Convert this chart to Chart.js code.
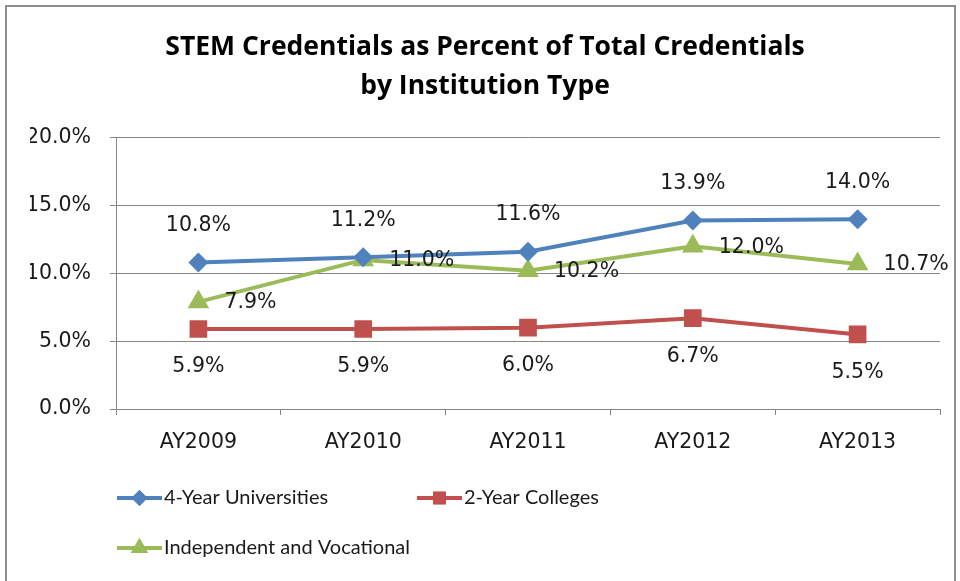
<!DOCTYPE html>
<html>
<head>
<meta charset="utf-8">
<script src="https://cdn.jsdelivr.net/npm/chart.js"></script>
<style>
  html, body { margin: 0; padding: 0; background: #fff; }
  #wrap { position: relative; width: 960px; height: 581px; overflow: hidden; }
  #frame { position: absolute; left: 5px; top: 5px; width: 951px; height: 620px; border: 2px solid #8e8e8e; box-sizing: border-box; }
  #c { position: absolute; left: 0; top: 0; }
</style>
</head>
<body>
<div id="wrap">
  <div id="frame"></div>
  <canvas id="c" width="960" height="581"></canvas>
</div>
<script>
const titleLines = ['STEM Credentials as Percent of Total Credentials', 'by Institution Type'];
const categories = ['AY2009', 'AY2010', 'AY2011', 'AY2012', 'AY2013'];
const seriesNames = ['4-Year Universities', '2-Year Colleges', 'Independent and Vocational'];
const universities = [10.8, 11.2, 11.6, 13.9, 14.0];
const colleges = [5.9, 5.9, 6.0, 6.7, 5.5];
const vocational = [7.9, 11.0, 10.2, 12.0, 10.7];
const yTicks = [0, 5, 10, 15, 20];

const FONT = 'Lato, "Open Sans", sans-serif';
const NUMFONT = '"DejaVu Sans", "Open Sans", sans-serif';
const GRID = '#868686';

const dataLabels = {
  id: 'dataLabels',
  afterDatasetsDraw(chart) {
    const ctx = chart.ctx;
    ctx.save();
    ctx.font = '20.5px ' + NUMFONT;
    ctx.fillStyle = '#1a1a1a';
    chart.data.datasets.forEach((ds, i) => {
      const meta = chart.getDatasetMeta(i);
      meta.data.forEach((pt, j) => {
        const txt = ds.data[j].toFixed(1) + '%';
        if (ds.labelPos === 'top') {
          ctx.textAlign = 'center'; ctx.textBaseline = 'middle';
          ctx.fillText(txt, pt.x, pt.y - 37);
        } else if (ds.labelPos === 'bottom') {
          ctx.textAlign = 'center'; ctx.textBaseline = 'middle';
          ctx.fillText(txt, pt.x, pt.y + 38);
        } else {
          ctx.textAlign = 'left'; ctx.textBaseline = 'middle';
          ctx.fillText(txt, pt.x + 26, pt.y + 1);
        }
      });
    });
    ctx.restore();
  }
};

const customLegend = {
  id: 'customLegend',
  afterDraw(chart) {
    const ctx = chart.ctx;
    const spots = [[117, 498], [417, 498], [117, 548]];
    chart.data.datasets.forEach((ds, i) => {
      const [x, y] = spots[i];
      ctx.save();
      ctx.strokeStyle = ds.borderColor;
      ctx.lineWidth = 4;
      ctx.beginPath();
      ctx.moveTo(x, y);
      ctx.lineTo(x + 45, y);
      ctx.stroke();
      ctx.fillStyle = ds.borderColor;
      Chart.helpers.drawPoint(ctx, {
        pointStyle: ds.pointStyle,
        radius: ds.legendRadius,
        rotation: 0,
        borderWidth: 0
      }, x + 22.5, y);
      ctx.fill();
      ctx.fillStyle = '#1a1a1a';
      ctx.font = '20px ' + FONT;
      ctx.textAlign = 'left';
      ctx.textBaseline = 'middle';
      ctx.fillText(ds.label, x + 47, y);
      ctx.restore();
    });
  }
};

new Chart(document.getElementById('c'), {
  type: 'line',
  data: {
    labels: categories,
    datasets: [
      {
        label: seriesNames[0], data: universities,
        borderColor: '#4F81BD', backgroundColor: '#4F81BD',
        borderWidth: 4, pointStyle: 'rectRot', pointRadius: 10, pointHoverRadius: 10,
        pointBorderWidth: 0, labelPos: 'top', legendRadius: 8, tension: 0
      },
      {
        label: seriesNames[1], data: colleges,
        borderColor: '#C0504D', backgroundColor: '#C0504D',
        borderWidth: 4, pointStyle: 'rect', pointRadius: 12.5, pointHoverRadius: 12.5,
        pointBorderWidth: 0, labelPos: 'bottom', legendRadius: 9, tension: 0
      },
      {
        label: seriesNames[2], data: vocational,
        borderColor: '#9BBB59', backgroundColor: '#9BBB59',
        borderWidth: 4, pointStyle: 'triangle', pointRadius: 12.5, pointHoverRadius: 12.5,
        pointBorderWidth: 0, labelPos: 'right', legendRadius: 10, tension: 0
      }
    ]
  },
  options: {
    responsive: false,
    devicePixelRatio: 1,
    animation: false,
    layout: { padding: { left: 30, right: 20, top: 0, bottom: 122 } },
    plugins: {
      legend: { display: false },
      tooltip: { enabled: false },
      title: {
        display: true,
        text: titleLines,
        color: '#000',
        font: { family: '"Open Sans", Lato, sans-serif', size: 26.5, weight: 'bold', lineHeight: 1.47 },
        padding: { top: 28, bottom: 32 }
      }
    },
    scales: {
      x: {
        type: 'category',
        offset: true,
        grid: { offset: true, drawOnChartArea: false, drawTicks: true, tickLength: 6, color: GRID },
        border: { display: true, color: GRID, width: 1 },
        ticks: { font: { family: NUMFONT, size: 20.5 }, color: '#1a1a1a', padding: 15 },
        afterFit(s) { s.height = 50; }
      },
      y: {
        min: 0, max: 20,
        afterBuildTicks(s) { s.ticks = yTicks.map(v => ({ value: v })); },
        grid: { color: GRID, tickLength: 6, drawTicks: true },
        border: { display: true, color: GRID, width: 1 },
        ticks: {
          font: { family: NUMFONT, size: 20.5 }, color: '#1a1a1a', padding: 19,
          callback: v => Number(v).toFixed(1) + '%'
        },
        afterFit(s) { s.width = 86; }
      }
    }
  },
  plugins: [dataLabels, customLegend]
});
</script>
</body>
</html>
